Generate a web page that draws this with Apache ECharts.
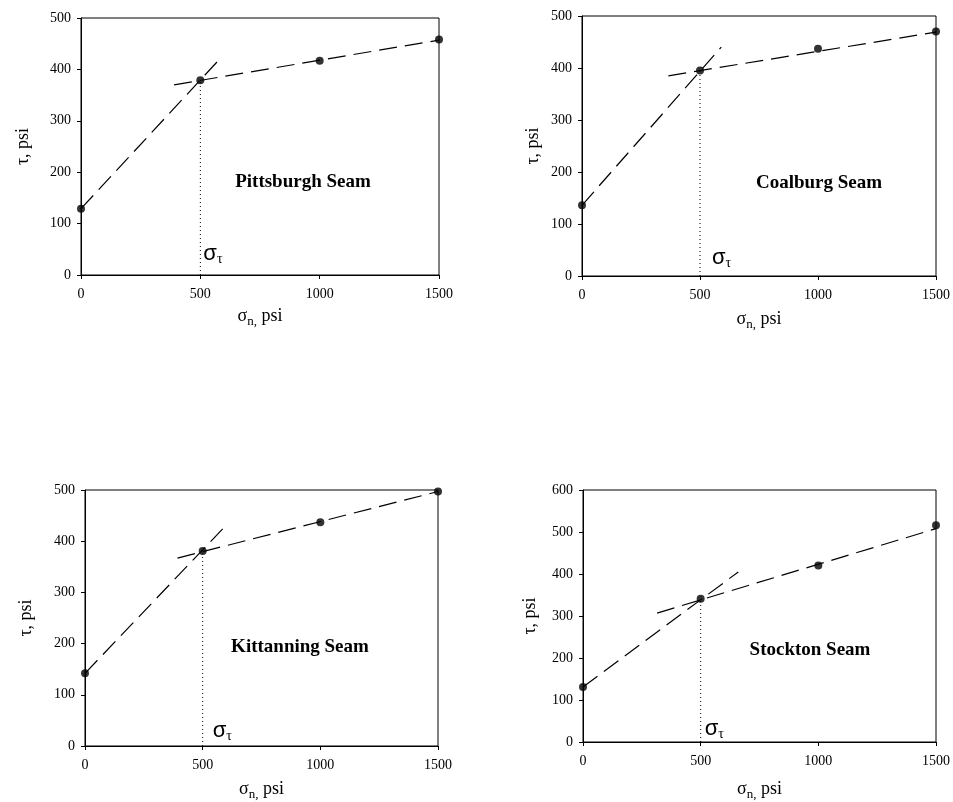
<!DOCTYPE html>
<html>
<head>
<meta charset="utf-8">
<script src="https://cdn.jsdelivr.net/npm/echarts@6/dist/echarts.min.js"></script>
<style>
  html, body { margin: 0; padding: 0; background: #fff; }
  #chart { width: 953px; height: 802px; }
</style>
</head>
<body>
<div id="chart"></div>
<script>
// Normal stress levels (psi) at which shear strength was measured
const sigmaN = [0, 500, 1000, 1500];

// Measured shear strength tau (psi) for each seam
const tauPittsburgh = [129, 379, 417, 458];
const tauCoalburg   = [136, 395, 437, 470];
const tauKittanning = [142, 381, 437, 497];
const tauStockton   = [131, 341, 420, 516];

// Fitted failure-envelope segments [sigmaN, tau]: low-stress branch and high-stress branch
const pittsburghLow  = [[0, 129], [575, 417]];
const pittsburghHigh = [[390, 370], [1500, 457]];
const coalburgLow    = [[0, 136], [590, 440]];
const coalburgHigh   = [[366, 385], [1500, 469]];
const kittanningLow  = [[0, 142], [585, 424]];
const kittanningHigh = [[393, 367], [1500, 497]];
const stocktonLow    = [[0, 131], [660, 405]];
const stocktonHigh   = [[315, 307], [1500, 508]];

// Transition stress sigma_tau for each seam
const sigmaTau = [500, 500, 500, 500];

// Axis ranges / ticks
const xMax = 1500, xStep = 500;
const yMaxes = [500, 500, 500, 600];
const yStep = 100;

const seamNames = ['Pittsburgh Seam', 'Coalburg Seam', 'Kittanning Seam', 'Stockton Seam'];

const panels = [
  { tau: tauPittsburgh, low: pittsburghLow, high: pittsburghHigh },
  { tau: tauCoalburg,   low: coalburgLow,   high: coalburgHigh },
  { tau: tauKittanning, low: kittanningLow, high: kittanningHigh },
  { tau: tauStockton,   low: stocktonLow,   high: stocktonHigh }
];

// Page layout for the four plots
const layout = [
  { grid: { left: 81,  top: 18,  width: 358, height: 257 }, xGap: 29, yGap: 49, seam: [303, 182], sig: [3, -9] },
  { grid: { left: 582, top: 16,  width: 354, height: 260 }, xGap: 31, yGap: 40, seam: [819, 183], sig: [12, -6] },
  { grid: { left: 85,  top: 490, width: 353, height: 257 }, xGap: 31, yGap: 50, seam: [300, 647], sig: [10, -3] },
  { grid: { left: 583, top: 490, width: 356, height: 254 }, xGap: 35, yGap: 44, seam: [810, 650], sig: [4, -1] }
];

const SERIF = '"Liberation Serif", "Times New Roman", serif';
const SANS = '"Liberation Sans", Arial, sans-serif';
const INK = '#000';

const grids = [], xAxes = [], yAxes = [], series = [];

layout.forEach((L, i) => {
  grids.push(Object.assign({ show: true, borderColor: INK, borderWidth: 1, backgroundColor: 'transparent' }, L.grid));

  xAxes.push({
    gridIndex: i, type: 'value', min: 0, max: xMax, interval: xStep,
    axisLine: { lineStyle: { color: INK, width: 1 } },
    axisTick: { show: true, inside: false, length: 4, lineStyle: { color: INK } },
    splitLine: { show: false },
    axisLabel: { color: INK, fontFamily: SERIF, fontSize: 14, margin: 12, formatter: v => String(v) },
    name: '{g|σ}{s|n,}{g| psi}',
    nameLocation: 'middle', nameGap: L.xGap,
    nameTextStyle: {
      color: INK,
      rich: {
        g: { fontFamily: SERIF, fontSize: 18, color: INK, lineHeight: 24, verticalAlign: 'middle' },
        s: { fontFamily: SERIF, fontSize: 13, color: INK, lineHeight: 13, verticalAlign: 'bottom' }
      }
    }
  });

  yAxes.push({
    gridIndex: i, type: 'value', min: 0, max: yMaxes[i], interval: yStep,
    axisLine: { show: true, lineStyle: { color: INK, width: 1 } },
    axisTick: { show: true, inside: false, length: 4, lineStyle: { color: INK } },
    splitLine: { show: false },
    axisLabel: { color: INK, fontFamily: SERIF, fontSize: 14, margin: 10, formatter: v => String(v) },
    name: 'τ, psi', nameLocation: 'middle', nameGap: L.yGap,
    nameTextStyle: { color: INK, fontFamily: SERIF, fontSize: 18 }
  });

  const P = panels[i];
  const dash = { color: INK, width: 1.2, type: [18, 8] };

  // Dotted drop line from the transition point to the sigma_n axis
  series.push({
    type: 'line', xAxisIndex: i, yAxisIndex: i, showSymbol: false, silent: true,
    data: [[sigmaTau[i], 0], [sigmaTau[i], P.tau[sigmaN.indexOf(sigmaTau[i])]]],
    lineStyle: { color: INK, width: 1, type: [1, 3] }
  });
  series.push({
    type: 'line', xAxisIndex: i, yAxisIndex: i, showSymbol: false, silent: true,
    data: P.low, lineStyle: dash
  });
  series.push({
    type: 'line', xAxisIndex: i, yAxisIndex: i, showSymbol: false, silent: true,
    data: P.high, lineStyle: dash
  });
  series.push({
    type: 'scatter', xAxisIndex: i, yAxisIndex: i, silent: true,
    symbol: 'circle', symbolSize: 8,
    itemStyle: { color: INK },
    data: sigmaN.map((x, k) => [x, P.tau[k]]),
    z: 5
  });
});

const chart = echarts.init(document.getElementById('chart'), null, { renderer: 'canvas' });
chart.setOption({
  animation: false,
  backgroundColor: '#fff',
  grid: grids, xAxis: xAxes, yAxis: yAxes, series: series
});

// Seam names and sigma_tau markers
const graphics = [];
layout.forEach((L, i) => {
  graphics.push({
    type: 'text', x: L.seam[0], y: L.seam[1],
    style: {
      text: seamNames[i], fill: INK,
      font: 'bold 19px ' + SERIF,
      align: 'center', verticalAlign: 'middle'
    }
  });
  const p = chart.convertToPixel({ gridIndex: i }, [sigmaTau[i], 0]);
  graphics.push({
    type: 'text', x: p[0] + L.sig[0], y: p[1] + L.sig[1],
    style: {
      text: '{g|σ}{t|τ}',
      align: 'left', verticalAlign: 'bottom',
      rich: {
        g: { fontFamily: SANS, fontSize: 22, fill: INK, lineHeight: 24, verticalAlign: 'middle' },
        t: { fontFamily: SERIF, fontSize: 14, fill: INK, lineHeight: 14, verticalAlign: 'bottom' }
      }
    }
  });
});
chart.setOption({ graphic: graphics });
</script>
</body>
</html>
